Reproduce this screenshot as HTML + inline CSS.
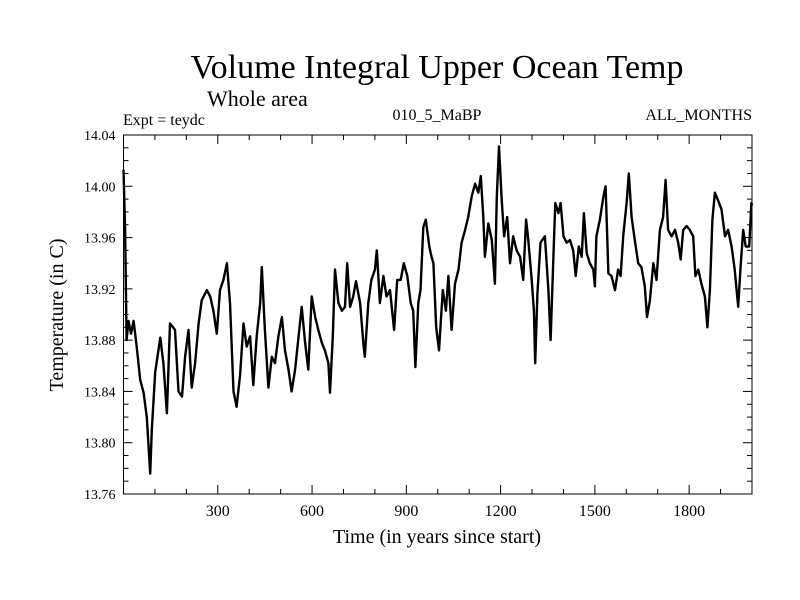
<!DOCTYPE html>
<html><head><meta charset="utf-8"><style>
html,body{margin:0;padding:0;background:#fff;}
svg{display:block;font-family:"Liberation Serif",serif;}
</style></head><body>
<svg id="chart" width="800" height="600" viewBox="0 0 800 600">
<rect width="800" height="600" fill="#fff"/>
<text x="437" y="78" font-size="34" text-anchor="middle">Volume Integral Upper Ocean Temp</text>
<text x="207" y="106" font-size="22">Whole area</text>
<text x="123" y="125" font-size="16">Expt = teydc</text>
<text x="437" y="120" font-size="16" text-anchor="middle">010_5_MaBP</text>
<text x="752" y="120" font-size="16" text-anchor="end">ALL_MONTHS</text>
<text x="437" y="543" font-size="20" text-anchor="middle">Time (in years since start)</text>
<text transform="translate(63,315) rotate(-90)" font-size="20" text-anchor="middle">Temperature (in C)</text>
<g id="axes"></g>
<path id="series" fill="none" stroke="#000" stroke-width="2.4" stroke-linejoin="round"/>
</svg>
<script>
const years = [0,5,10,16,24,32,42,53,64,74,85,90,101,117,127,138,148,164,175,186,196,207,217,228,239,249,265,276,286,297,307,318,329,339,350,360,371,382,392,403,413,424,435,440,450,461,472,482,493,504,514,525,535,546,556,567,578,588,599,610,620,631,641,652,657,666,673,684,695,705,712,721,731,740,753,763,768,779,789,800,806,816,827,837,848,861,871,882,892,903,914,922,929,938,945,954,962,973,980,986,995,1004,1016,1026,1034,1044,1055,1066,1076,1087,1097,1108,1119,1129,1137,1145,1150,1161,1172,1182,1188,1195,1203,1211,1221,1230,1240,1251,1262,1272,1281,1288,1299,1306,1310,1317,1327,1341,1352,1359,1368,1374,1384,1391,1400,1410,1421,1431,1439,1449,1458,1465,1474,1484,1495,1500,1505,1516,1527,1534,1543,1553,1564,1574,1582,1590,1601,1608,1617,1627,1638,1648,1659,1666,1675,1686,1696,1707,1717,1725,1733,1744,1755,1765,1773,1781,1792,1802,1813,1820,1829,1839,1850,1858,1866,1874,1882,1892,1903,1914,1924,1935,1945,1956,1963,1972,1980,1991,1998,2000];
const temps = [14.013,13.966,13.88,13.895,13.885,13.895,13.875,13.849,13.839,13.82,13.776,13.81,13.855,13.882,13.862,13.823,13.893,13.888,13.84,13.836,13.867,13.888,13.843,13.862,13.893,13.911,13.919,13.914,13.903,13.885,13.919,13.927,13.94,13.909,13.84,13.828,13.853,13.893,13.875,13.883,13.845,13.883,13.909,13.937,13.888,13.843,13.867,13.862,13.883,13.898,13.872,13.857,13.84,13.857,13.88,13.906,13.878,13.857,13.914,13.898,13.888,13.878,13.872,13.862,13.839,13.883,13.935,13.909,13.903,13.906,13.94,13.906,13.914,13.926,13.909,13.878,13.867,13.909,13.927,13.935,13.95,13.909,13.93,13.914,13.919,13.888,13.927,13.927,13.94,13.93,13.909,13.903,13.859,13.909,13.919,13.968,13.974,13.953,13.945,13.94,13.89,13.872,13.919,13.903,13.93,13.888,13.924,13.935,13.956,13.966,13.976,13.992,14.002,13.995,14.008,13.976,13.945,13.971,13.958,13.924,13.992,14.031,13.992,13.961,13.976,13.94,13.961,13.95,13.945,13.927,13.974,13.958,13.927,13.903,13.862,13.916,13.956,13.961,13.919,13.88,13.945,13.987,13.979,13.987,13.961,13.956,13.958,13.95,13.93,13.953,13.945,13.979,13.948,13.94,13.935,13.922,13.961,13.974,13.992,14.0,13.932,13.93,13.919,13.935,13.93,13.961,13.987,14.01,13.976,13.958,13.94,13.937,13.922,13.898,13.911,13.94,13.927,13.966,13.976,14.005,13.966,13.961,13.966,13.956,13.943,13.966,13.969,13.966,13.961,13.93,13.935,13.924,13.914,13.89,13.919,13.974,13.995,13.989,13.982,13.961,13.966,13.953,13.935,13.906,13.935,13.966,13.953,13.953,13.987,13.985];
const xTicks = [300,600,900,1200,1500,1800];
const yTicks = [13.76,13.80,13.84,13.88,13.92,13.96,14.00,14.04];

const L=123.5,R=752,T=135,B=494,X0=0,X1=2000,Y0=13.76,Y1=14.04;
const sx=v=>L+(v-X0)/(X1-X0)*(R-L);
const sy=v=>B-(v-Y0)/(Y1-Y0)*(B-T);
const NS="http://www.w3.org/2000/svg";
const axes=document.getElementById('axes');
function mk(tag,attrs){const e=document.createElementNS(NS,tag);for(const k in attrs)e.setAttribute(k,attrs[k]);axes.appendChild(e);return e;}
const frame=mk('rect',{x:L,y:T,width:R-L,height:B-T,fill:'none',stroke:'#000','stroke-width':1});


for(let v=100;v<X1;v+=100){
  const major=v%300===0, len=major?9:5, x=sx(v);
  const t1=mk('line',{x1:x,x2:x,y1:B,y2:B-len,stroke:'#000','stroke-width':1});
  
  
  const t2=mk('line',{x1:x,x2:x,y1:T,y2:T+len,stroke:'#000','stroke-width':1});
  
  
}
xTicks.forEach(v=>{
  const t=mk('text',{x:sx(v),y:B+22,'font-size':16,'text-anchor':'middle'});
  t.textContent=v;
  
  
});
for(let i=1;i<28;i++){
  const v=Y0+i*0.01, major=i%4===0, len=major?9:5, y=sy(v);
  const t1=mk('line',{x1:L,x2:L+len,y1:y,y2:y,stroke:'#000','stroke-width':1});
  
  
  const t2=mk('line',{x1:R,x2:R-len,y1:y,y2:y,stroke:'#000','stroke-width':1});
  
  
}
yTicks.forEach(v=>{
  const t=mk('text',{x:L-8,y:sy(v)+5,'font-size':14,'text-anchor':'end'});
  t.textContent=v.toFixed(2);
  
  
});
document.getElementById('series').setAttribute('d',years.map((yr,i)=>(i?'L':'M')+sx(yr).toFixed(1)+','+sy(temps[i]).toFixed(1)).join(''));
</script>
</body></html>
